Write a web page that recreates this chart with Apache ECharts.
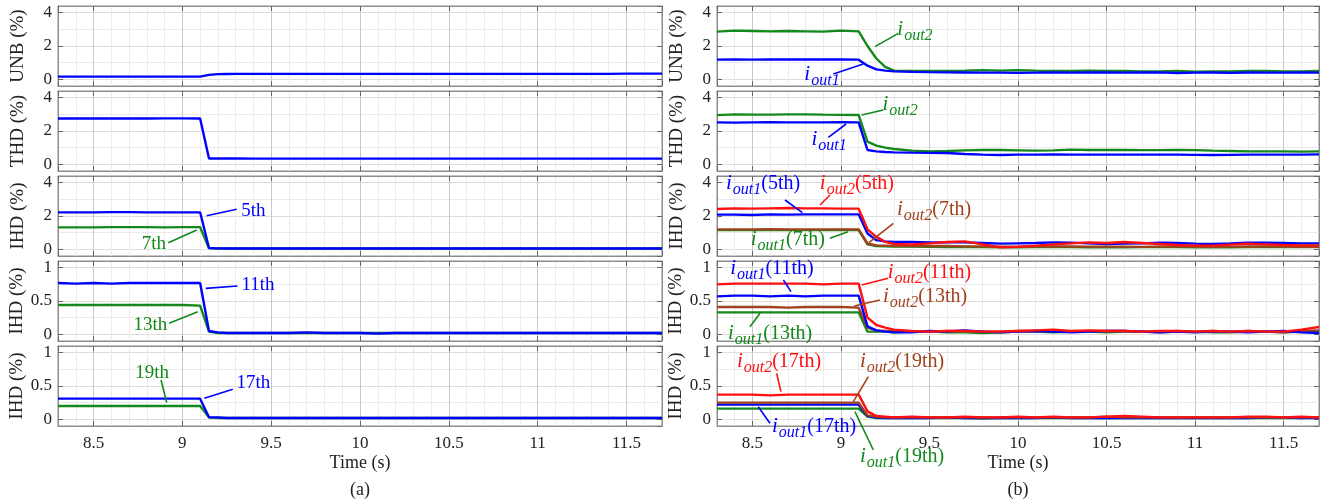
<!DOCTYPE html>
<html><head><meta charset="utf-8">
<script src="https://cdn.jsdelivr.net/npm/echarts@6/dist/echarts.min.js"></script>
<style>html,body{margin:0;padding:0;background:#fff}#c{width:1331px;height:504px}</style>
</head><body><div id="c"></div><script>
// ---------------- data ----------------
const t = [8.3,8.4,8.5,8.6,8.7,8.8,8.9,9.0,9.1,9.15,9.2,9.25,9.3,9.4,9.5,9.6,9.7,9.8,9.9,10.0,10.1,10.2,10.3,10.4,10.5,10.6,10.7,10.8,10.9,11.0,11.1,11.2,11.3,11.4,11.5,11.6,11.7];

// (a) left column
const a_UNB = [0.16,0.16,0.16,0.16,0.16,0.16,0.16,0.16,0.16,0.27,0.31,0.32,0.33,0.33,0.33,0.33,0.33,0.33,0.33,0.33,0.33,0.33,0.33,0.33,0.33,0.33,0.33,0.33,0.33,0.33,0.33,0.33,0.33,0.33,0.34,0.34,0.34];
const a_THD = [2.75,2.75,2.75,2.75,2.75,2.75,2.76,2.76,2.75,0.35,0.35,0.35,0.35,0.34,0.34,0.34,0.34,0.34,0.34,0.34,0.34,0.34,0.34,0.34,0.34,0.34,0.34,0.34,0.34,0.34,0.34,0.34,0.34,0.34,0.34,0.34,0.34];
const a_H5  = [2.22,2.22,2.22,2.23,2.23,2.22,2.22,2.22,2.22,0.08,0.06,0.05,0.05,0.05,0.05,0.05,0.05,0.05,0.05,0.05,0.05,0.05,0.05,0.05,0.05,0.05,0.05,0.05,0.05,0.05,0.05,0.05,0.05,0.05,0.05,0.05,0.05];
const a_H7  = [1.32,1.32,1.32,1.33,1.33,1.33,1.32,1.33,1.33,0.07,0.05,0.05,0.05,0.05,0.05,0.05,0.05,0.05,0.05,0.05,0.05,0.05,0.05,0.05,0.05,0.05,0.05,0.05,0.05,0.05,0.05,0.05,0.05,0.05,0.05,0.05,0.05];
const a_H11 = [0.77,0.76,0.77,0.76,0.77,0.77,0.77,0.77,0.77,0.05,0.03,0.02,0.02,0.02,0.02,0.02,0.03,0.02,0.02,0.02,0.01,0.02,0.02,0.02,0.02,0.02,0.02,0.02,0.02,0.02,0.02,0.02,0.02,0.02,0.02,0.02,0.02];
const a_H13 = [0.44,0.44,0.44,0.44,0.44,0.44,0.44,0.44,0.43,0.04,0.02,0.02,0.02,0.02,0.02,0.02,0.02,0.02,0.02,0.02,0.02,0.02,0.02,0.02,0.02,0.02,0.02,0.02,0.02,0.02,0.02,0.02,0.02,0.02,0.02,0.02,0.02];
const a_H17 = [0.31,0.31,0.31,0.31,0.31,0.31,0.31,0.31,0.31,0.03,0.03,0.02,0.02,0.02,0.02,0.02,0.02,0.02,0.02,0.02,0.02,0.02,0.02,0.02,0.02,0.02,0.02,0.02,0.02,0.02,0.02,0.02,0.02,0.02,0.02,0.02,0.02];
const a_H19 = [0.20,0.20,0.20,0.20,0.20,0.20,0.20,0.20,0.20,0.03,0.02,0.02,0.02,0.02,0.02,0.02,0.02,0.02,0.02,0.02,0.02,0.02,0.02,0.02,0.02,0.02,0.02,0.02,0.02,0.02,0.02,0.02,0.02,0.02,0.02,0.02,0.02];

// (b) right column
const b_UNB1 = [1.18,1.19,1.18,1.19,1.19,1.19,1.19,1.20,1.18,0.82,0.60,0.52,0.48,0.45,0.43,0.42,0.41,0.40,0.40,0.39,0.40,0.41,0.40,0.41,0.41,0.40,0.41,0.42,0.38,0.40,0.41,0.39,0.41,0.40,0.40,0.41,0.40];
const b_UNB2 = [2.86,2.92,2.90,2.88,2.90,2.88,2.86,2.92,2.88,2.00,1.25,0.75,0.52,0.50,0.50,0.50,0.52,0.55,0.52,0.55,0.52,0.50,0.50,0.52,0.50,0.50,0.48,0.48,0.50,0.46,0.48,0.48,0.50,0.50,0.48,0.48,0.50];
const b_THD1 = [2.52,2.50,2.52,2.53,2.52,2.52,2.52,2.53,2.52,0.86,0.78,0.74,0.72,0.70,0.69,0.68,0.62,0.58,0.56,0.58,0.58,0.60,0.58,0.58,0.58,0.58,0.58,0.58,0.58,0.57,0.56,0.57,0.58,0.58,0.58,0.58,0.60];
const b_THD2 = [2.95,3.00,2.98,2.98,3.00,3.00,2.98,2.97,2.96,1.36,1.12,1.00,0.92,0.82,0.78,0.80,0.84,0.86,0.86,0.84,0.82,0.84,0.88,0.86,0.86,0.86,0.85,0.85,0.86,0.85,0.82,0.80,0.78,0.78,0.78,0.76,0.78];
const b_H5_1 = [2.08,2.08,2.06,2.10,2.08,2.10,2.10,2.10,2.10,0.95,0.55,0.48,0.45,0.45,0.42,0.42,0.42,0.38,0.34,0.36,0.38,0.42,0.40,0.36,0.32,0.34,0.36,0.40,0.38,0.34,0.32,0.35,0.40,0.40,0.38,0.36,0.36];
const b_H5_2 = [2.42,2.46,2.44,2.46,2.48,2.46,2.46,2.44,2.44,1.20,0.75,0.45,0.32,0.29,0.36,0.44,0.48,0.30,0.12,0.15,0.22,0.30,0.36,0.42,0.38,0.44,0.38,0.32,0.26,0.22,0.22,0.28,0.34,0.30,0.26,0.24,0.24];
const b_H7_1 = [1.15,1.15,1.15,1.15,1.15,1.15,1.15,1.16,1.16,0.30,0.20,0.18,0.16,0.16,0.15,0.14,0.14,0.13,0.12,0.12,0.13,0.14,0.13,0.12,0.12,0.12,0.13,0.14,0.13,0.12,0.12,0.12,0.13,0.14,0.13,0.14,0.15];
const b_H7_2 = [1.20,1.20,1.20,1.21,1.20,1.20,1.20,1.20,1.20,0.35,0.24,0.22,0.20,0.20,0.20,0.20,0.18,0.17,0.16,0.16,0.17,0.18,0.17,0.16,0.16,0.16,0.15,0.16,0.17,0.16,0.15,0.16,0.17,0.17,0.16,0.15,0.14];
const b_H11_1 = [0.57,0.58,0.58,0.57,0.58,0.57,0.58,0.58,0.58,0.12,0.06,0.04,0.03,0.03,0.05,0.04,0.06,0.04,0.03,0.04,0.05,0.04,0.03,0.04,0.05,0.05,0.04,0.03,0.04,0.03,0.04,0.04,0.03,0.04,0.05,0.03,0.02];
const b_H11_2 = [0.75,0.76,0.76,0.76,0.76,0.76,0.75,0.76,0.76,0.25,0.14,0.10,0.07,0.05,0.04,0.05,0.05,0.04,0.04,0.05,0.06,0.07,0.05,0.06,0.05,0.05,0.04,0.05,0.05,0.04,0.05,0.04,0.05,0.04,0.04,0.07,0.11];
const b_H13_1 = [0.33,0.33,0.33,0.33,0.33,0.33,0.33,0.33,0.33,0.04,0.04,0.04,0.03,0.04,0.04,0.03,0.03,0.02,0.03,0.04,0.04,0.03,0.04,0.04,0.03,0.04,0.04,0.03,0.04,0.04,0.03,0.03,0.04,0.04,0.03,0.04,0.04];
const b_H13_2 = [0.41,0.41,0.41,0.41,0.40,0.41,0.41,0.41,0.40,0.10,0.06,0.05,0.05,0.04,0.04,0.05,0.05,0.04,0.04,0.05,0.05,0.05,0.04,0.05,0.05,0.05,0.04,0.04,0.05,0.04,0.05,0.04,0.05,0.04,0.03,0.05,0.06];
const b_H17_1 = [0.22,0.22,0.22,0.22,0.22,0.22,0.22,0.22,0.22,0.05,0.03,0.02,0.02,0.02,0.02,0.03,0.02,0.02,0.02,0.02,0.02,0.03,0.02,0.02,0.02,0.02,0.02,0.02,0.02,0.02,0.02,0.02,0.02,0.03,0.03,0.02,0.02];
const b_H17_2 = [0.37,0.37,0.37,0.36,0.37,0.37,0.37,0.37,0.37,0.12,0.05,0.04,0.03,0.04,0.03,0.03,0.04,0.03,0.03,0.04,0.03,0.04,0.03,0.03,0.04,0.05,0.04,0.03,0.03,0.03,0.03,0.03,0.04,0.04,0.03,0.04,0.03];
const b_H19_1 = [0.16,0.16,0.16,0.16,0.16,0.16,0.16,0.16,0.16,0.04,0.02,0.02,0.02,0.02,0.02,0.02,0.02,0.01,0.02,0.02,0.02,0.02,0.02,0.02,0.02,0.02,0.02,0.02,0.02,0.02,0.02,0.02,0.02,0.02,0.02,0.02,0.03];
const b_H19_2 = [0.25,0.25,0.25,0.25,0.25,0.25,0.25,0.25,0.25,0.06,0.04,0.03,0.03,0.03,0.03,0.03,0.03,0.03,0.03,0.03,0.03,0.03,0.03,0.03,0.04,0.03,0.03,0.03,0.03,0.03,0.03,0.03,0.03,0.03,0.03,0.03,0.03];

const yNames = ['UNB (%)','THD (%)','IHD (%)','IHD (%)','IHD (%)'];
const xName = 'Time (s)';
const panelTags = ['(a)','(b)'];

// ---------------- style ----------------
const BLUE='#0000ff', GREEN='#12891a', RED='#ff1010', BROWN='#a2411b';
const FONT='Liberation Serif';
const colLeft=[58,717], colWidth=[604,602], rowTop=[6,91,176,261,346], rowH=80;
const yRange=[[-0.4,4.4],[-0.4,4.4],[-0.4,4.4],[-0.1,1.1],[-0.1,1.1]];

const panels = [
  [ [[a_UNB,BLUE]], [[a_THD,BLUE]], [[a_H7,GREEN],[a_H5,BLUE]], [[a_H13,GREEN],[a_H11,BLUE]], [[a_H19,GREEN],[a_H17,BLUE]] ],
  [ [[b_UNB2,GREEN],[b_UNB1,BLUE]], [[b_THD2,GREEN],[b_THD1,BLUE]],
    [[b_H7_1,GREEN],[b_H7_2,BROWN],[b_H5_1,BLUE],[b_H5_2,RED]],
    [[b_H13_1,GREEN],[b_H13_2,BROWN],[b_H11_1,BLUE],[b_H11_2,RED]],
    [[b_H19_1,GREEN],[b_H17_1,BLUE],[b_H19_2,BROWN],[b_H17_2,RED]] ]
];

const grids=[], xAxes=[], yAxes=[], series=[];
const gridCount=10;
for (let c=0;c<2;c++) for (let r=0;r<5;r++) {
  const g=c*5+r;
  grids.push({left:colLeft[c], top:rowTop[r], width:colWidth[c], height:rowH, show:true,
    borderColor:'#8c8c8c', borderWidth:1, backgroundColor:'#fff', containLabel:false, outerBoundsMode:'none'});
}
for (let g=0; g<gridCount; g++) {
  const r=g%5;
  xAxes.push({gridIndex:g, type:'value', min:8.3, max:11.7, splitNumber:7, position:'bottom',
    name: r===4 ? xName : '', nameLocation:'middle', nameGap:28,
    nameTextStyle:{fontFamily:FONT, fontSize:18, color:'#222'},
    axisLine:{show:true, onZero:false, lineStyle:{color:'#8c8c8c', width:1}},
    axisTick:{show:true, inside:true, length:5, lineStyle:{color:'#666'}},
    axisLabel:{show:r===4, showMinLabel:false, showMaxLabel:false, margin:9, color:'#222', fontFamily:FONT, fontSize:17},
    splitLine:{show:true, lineStyle:{color:'#c8c8c8', width:1}},
    minorTick:{show:false, splitNumber:5},
    minorSplitLine:{show:true, lineStyle:{color:'#ebebeb', width:1}}
  });
  yAxes.push({gridIndex:g, type:'value', min:yRange[r][0], max:yRange[r][1], splitNumber:2, position:'left',
    name:yNames[r], nameLocation:'middle', nameGap:30,
    nameTextStyle:{fontFamily:FONT, fontSize:19, color:'#222'},
    axisLine:{show:true, onZero:false, lineStyle:{color:'#8c8c8c', width:1}},
    axisTick:{show:true, inside:true, length:5, lineStyle:{color:'#666'}},
    axisLabel:{show:true, showMinLabel:false, showMaxLabel:false, margin:6, color:'#222', fontFamily:FONT, fontSize:17},
    splitLine:{show:true, lineStyle:{color:'#dedede', width:1}},
    minorTick:{show:false, splitNumber:2},
    minorSplitLine:{show:true, lineStyle:{color:'#ebebeb', width:1}}
  });
}
for (let g=0; g<gridCount; g++) {
  const r=g%5;
  xAxes.push({gridIndex:g, type:'value', min:8.3, max:11.7, splitNumber:7, position:'top',
    axisLine:{show:true, onZero:false, lineStyle:{color:'#8c8c8c'}},
    axisTick:{show:true, inside:true, length:5, lineStyle:{color:'#666'}},
    axisLabel:{show:false}, splitLine:{show:false}});
  yAxes.push({gridIndex:g, type:'value', min:yRange[r][0], max:yRange[r][1], splitNumber:2, position:'right',
    axisLine:{show:true, onZero:false, lineStyle:{color:'#8c8c8c'}},
    axisTick:{show:true, inside:true, length:5, lineStyle:{color:'#666'}},
    axisLabel:{show:false}, splitLine:{show:false}});
}
for (let c=0;c<2;c++) for (let r=0;r<5;r++) {
  const g=c*5+r;
  panels[c][r].forEach(([arr,col])=>{
    series.push({type:'line', xAxisIndex:g, yAxisIndex:g, data:t.map((x,i)=>[x,arr[i]]),
      showSymbol:false, symbol:'none', silent:true, animation:false,
      lineStyle:{color:col, width:2.4}, itemStyle:{color:col}, z:3});
  });
}

const chart = echarts.init(document.getElementById('c'), null, {renderer:'canvas'});
chart.setOption({
  backgroundColor:'#fff', animation:false,
  grid:grids, xAxis:xAxes, yAxis:yAxes, series:series
});

// ---------------- annotations (data coordinates) ----------------
const sub = (s, rest) => '{i|i}{s|' + s + '}{n|' + rest + '}';
const ann = [
  // g, text, color, tx, ty, x1, y1, x2, y2
  [2,'{p|5th}',BLUE, 9.40,2.32, 9.137,2.02, 9.306,2.40],
  [2,'{p|7th}',GREEN, 8.84,0.32, 8.921,0.40, 9.081,1.16],
  [3,'{p|11th}',BLUE, 9.426,0.74, 9.132,0.69, 9.31,0.725],
  [3,'{p|13th}',GREEN, 8.82,0.14, 8.925,0.165, 9.087,0.34],
  [4,'{p|19th}',GREEN, 8.83,0.69, 8.88,0.59, 8.912,0.25],
  [4,'{p|17th}',BLUE, 9.40,0.54, 9.124,0.315, 9.284,0.45],
  [5,sub('out2',''),GREEN, 9.418,2.86, 9.192,1.96, 9.324,2.76],
  [5,sub('out1',''),BLUE, 8.893,0.16, 8.957,0.32, 9.126,0.92],
  [6,sub('out2',''),GREEN, 9.334,3.46, 9.117,2.96, 9.239,3.26],
  [6,sub('out1',''),BLUE, 8.933,1.36, 8.929,1.62, 9.029,2.42],
  [7,sub('out1','(5th)'),BLUE, 8.56,3.86, 8.684,2.96, 8.782,2.20],
  [7,sub('out2','(5th)'),RED, 9.09,3.86, 8.938,3.26, 8.882,2.66],
  [7,sub('out2','(7th)'),BROWN, 9.526,2.26, 9.296,1.56, 9.158,0.40],
  [7,sub('out1','(7th)'),GREEN, 8.70,0.46, 8.938,0.66, 9.04,1.06],
  [8,sub('out1','(11th)'),BLUE, 8.61,0.965, 8.675,0.815, 8.718,0.64],
  [8,sub('out2','(11th)'),RED, 9.50,0.905, 9.117,0.74, 9.267,0.84],
  [8,sub('out2','(13th)'),BROWN, 9.475,0.54, 9.075,0.425, 9.22,0.515],
  [8,sub('out1','(13th)'),GREEN, 8.60,-0.01, 8.486,0.115, 8.543,0.315],
  [9,sub('out2','(17th)'),RED, 8.65,0.84, 8.637,0.69, 8.661,0.415],
  [9,sub('out2','(19th)'),BROWN, 9.345,0.84, 9.155,0.64, 9.07,0.265],
  [9,sub('out1','(17th)'),BLUE, 8.848,-0.135, 8.533,0.19, 8.599,-0.06],
  [9,sub('out1','(19th)'),GREEN, 9.345,-0.585, 9.079,0.115, 9.183,-0.46]
];
function rich(col){
  return {
    p:{fontFamily:FONT, fontSize:19, fill:col, color:col, verticalAlign:'bottom'},
    i:{fontFamily:FONT, fontSize:21, fontStyle:'italic', fill:col, color:col, verticalAlign:'bottom', padding:[0,1,4,0]},
    s:{fontFamily:FONT, fontSize:16, fontStyle:'italic', fill:col, color:col, verticalAlign:'bottom', padding:[0,0,0,0]},
    n:{fontFamily:FONT, fontSize:20, fill:col, color:col, verticalAlign:'bottom', padding:[0,0,4,0]}
  };
}
const gfx=[];
ann.forEach(([g,txt,col,tx,ty,x1,y1,x2,y2])=>{
  const f={xAxisIndex:g, yAxisIndex:g};
  const p=chart.convertToPixel(f,[tx,ty]);
  const a=chart.convertToPixel(f,[x1,y1]);
  const b=chart.convertToPixel(f,[x2,y2]);
  gfx.push({type:'line', silent:true, z:100, shape:{x1:a[0],y1:a[1],x2:b[0],y2:b[1]}, style:{stroke:col, lineWidth:1.6}});
  gfx.push({type:'text', silent:true, z:101, x:p[0], y:p[1],
    style:{text:txt, fill:col, align:'center', verticalAlign:'middle', rich:rich(col), fontFamily:FONT, fontSize:19}});
});
// panel tags
for (let c=0;c<2;c++){
  const cx = colLeft[c] + colWidth[c]/2;
  gfx.push({type:'text', silent:true, x:cx, y:490, style:{text:panelTags[c], fill:'#222', align:'center', verticalAlign:'middle', fontFamily:FONT, fontSize:18}});
}
chart.setOption({graphic:gfx});
</script></body></html>
